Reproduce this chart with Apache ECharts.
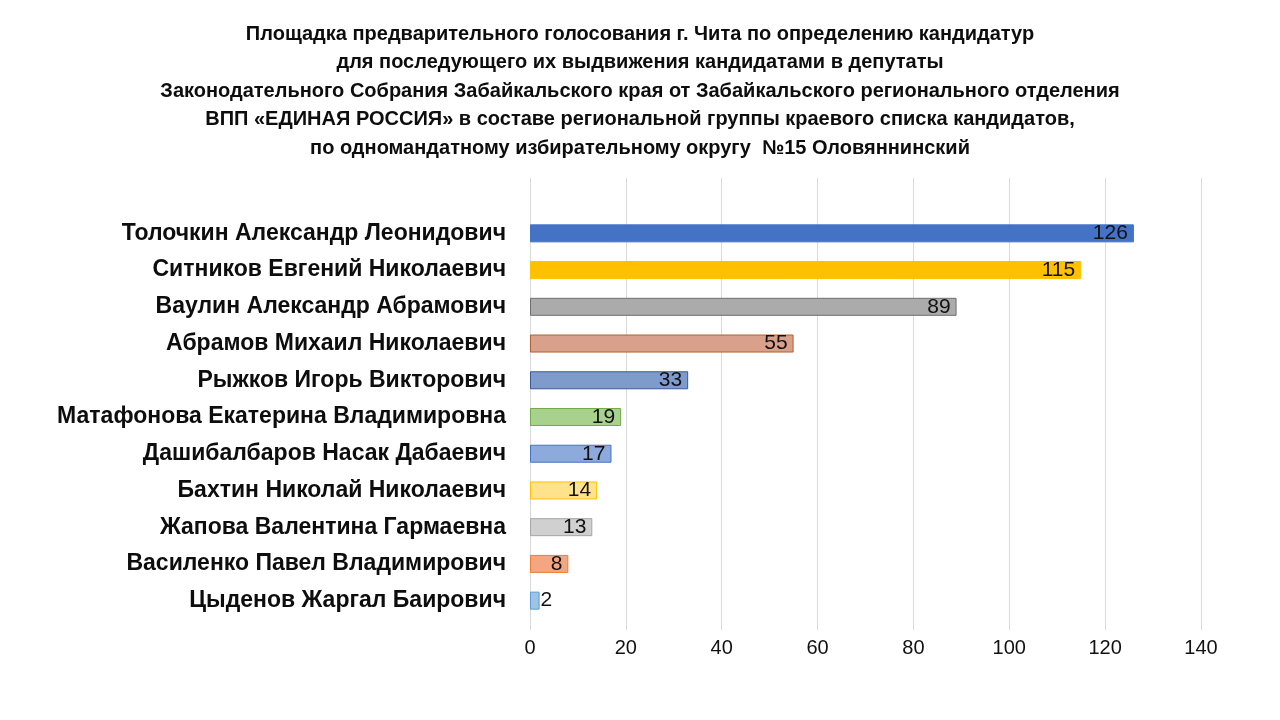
<!DOCTYPE html>
<html><head><meta charset="utf-8">
<script src="https://cdn.jsdelivr.net/npm/echarts@6/dist/echarts.min.js"></script>
<style>html,body{margin:0;padding:0;background:#fff}#c{width:1280px;height:720px}</style>
</head><body><div id="c"></div>
<script>
const titleLines = [
  "Площадка предварительного голосования г. Чита по определению кандидатур",
  "для последующего их выдвижения кандидатами в депутаты",
  "Законодательного Собрания Забайкальского края от Забайкальского регионального отделения",
  "ВПП «ЕДИНАЯ РОССИЯ» в составе региональной группы краевого списка кандидатов,",
  "по одномандатному избирательному округу  №15 Оловяннинский"
];
const categories = [
  "Толочкин Александр Леонидович",
  "Ситников Евгений Николаевич",
  "Ваулин Александр Абрамович",
  "Абрамов Михаил Николаевич",
  "Рыжков Игорь Викторович",
  "Матафонова Екатерина Владимировна",
  "Дашибалбаров Насак Дабаевич",
  "Бахтин Николай Николаевич",
  "Жапова Валентина Гармаевна",
  "Василенко Павел Владимирович",
  "Цыденов Жаргал Баирович"
];
const values = [126, 115, 89, 55, 33, 19, 17, 14, 13, 8, 2];
const barColors = ["#4472C4","#FFC000","#ABABAB","#D9A08C","#7F9BCB","#A9D18E","#8EA9DB","#FFE38A","#D0D0D0","#F4A582","#9DC3E6"];
const borderColors = ["#4472C4","#FFC000","#6F6F6F","#B0602F","#3A5A96","#70AD47","#4472C4","#FFC000","#A5A5A5","#ED7D31","#5B9BD5"];
const xTicks = {min: 0, max: 140, interval: 20};

const FONT = "'Liberation Sans', Arial, sans-serif";
const chart = echarts.init(document.getElementById('c'));
chart.setOption({
  backgroundColor: '#fff',
  animation: false,
  title: {
    text: titleLines.join('\n'),
    left: 'center', top: 15,
    textStyle: {fontFamily: FONT, fontWeight: 'bold', fontSize: 20, lineHeight: 28.5, color: '#0d0d0d'}
  },
  grid: [
    {left: 530, right: 79, top: 178, bottom: 90},
    {left: 530, right: 79, top: 215, height: 404}
  ],
  xAxis: [
    {gridIndex: 0, type: 'value', min: xTicks.min, max: xTicks.max, interval: xTicks.interval,
     axisLine: {show: false}, axisTick: {show: false},
     splitLine: {show: true, lineStyle: {color: '#D9D9D9', width: 1}},
     axisLabel: {fontFamily: FONT, fontSize: 20, color: '#111', margin: 8}},
    {gridIndex: 1, type: 'value', min: xTicks.min, max: xTicks.max, interval: xTicks.interval, show: false}
  ],
  yAxis: [
    {gridIndex: 0, type: 'category', data: categories, show: false},
    {gridIndex: 1, type: 'category', data: categories, inverse: true,
     axisLine: {show: false}, axisTick: {show: false},
     axisLabel: {fontFamily: FONT, fontWeight: 'bold', fontSize: 23, color: '#0d0d0d', margin: 24}}
  ],
  series: [{
    type: 'bar', xAxisIndex: 1, yAxisIndex: 1, barWidth: 18,
    data: values.map((v, i) => ({
      value: v,
      itemStyle: {color: barColors[i], borderColor: borderColors[i], borderWidth: 1},
      label: v < 4 ? {position: 'right', distance: 1} : {}
    })),
    label: {show: true, position: 'insideRight', distance: 6, color: '#111', fontFamily: FONT, fontSize: 21}
  }]
});
</script>
</body></html>
